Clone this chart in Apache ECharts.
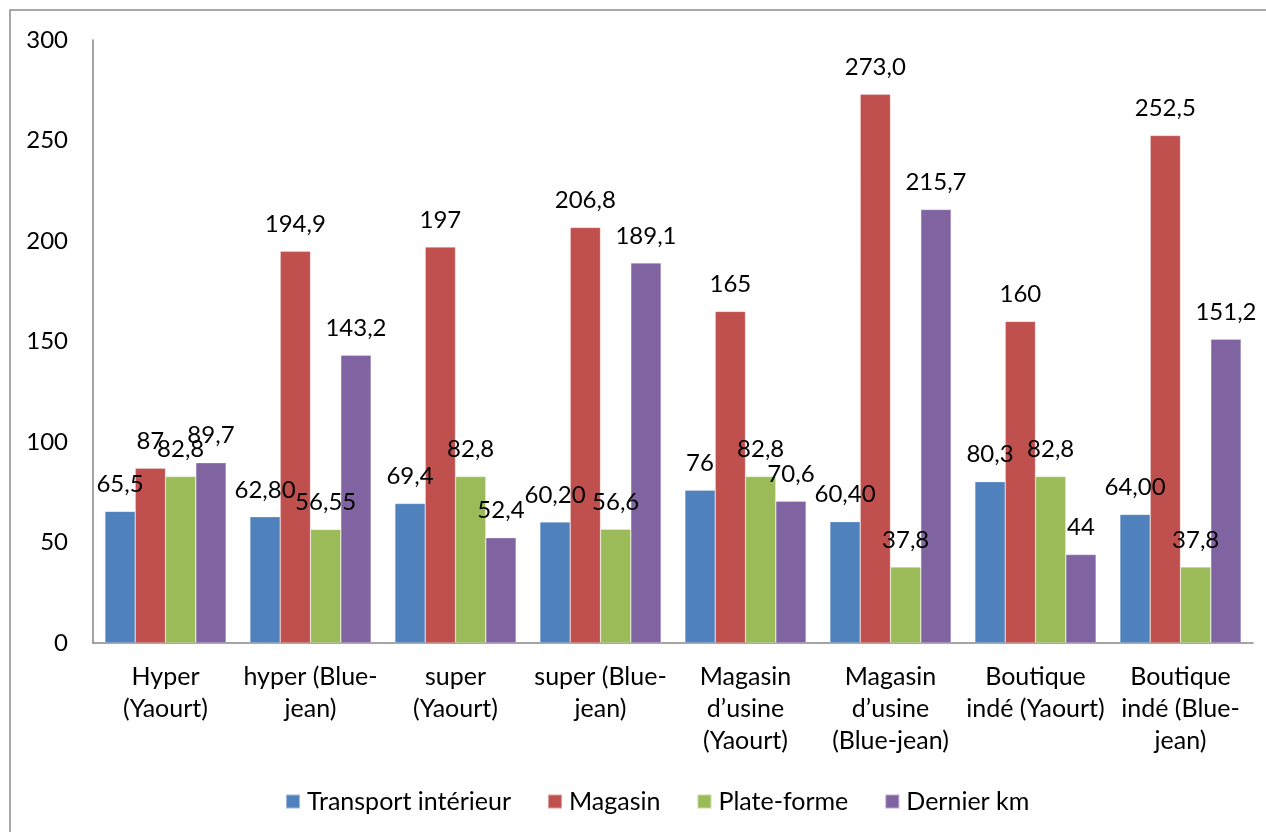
<!DOCTYPE html>
<html>
<head>
<meta charset="utf-8">
<script src="https://cdn.jsdelivr.net/npm/echarts@6/dist/echarts.min.js"></script>
<style>
html,body{margin:0;padding:0;background:#fff;}
#chart{width:1266px;height:832px;}
</style>
</head>
<body>
<div id="chart"></div>
<script>
const categories = [
  "Hyper\n(Yaourt)",
  "hyper (Blue-\njean)",
  "super\n(Yaourt)",
  "super (Blue-\njean)",
  "Magasin\nd’usine\n(Yaourt)",
  "Magasin\nd’usine\n(Blue-jean)",
  "Boutique\nindé (Yaourt)",
  "Boutique\nindé (Blue-\njean)"
];
const seriesNames = ["Transport intérieur", "Magasin", "Plate-forme", "Dernier km"];
const transport = [65.5, 62.8, 69.4, 60.2, 76, 60.4, 80.3, 64.0];
const magasin   = [87, 194.9, 197, 206.8, 165, 273.0, 160, 252.5];
const plateforme= [82.8, 56.55, 82.8, 56.6, 82.8, 37.8, 82.8, 37.8];
const dernierKm = [89.7, 143.2, 52.4, 189.1, 70.6, 215.7, 44, 151.2];
const transportLabels = ["65,5", "62,80", "69,4", "60,20", "76", "60,40", "80,3", "64,00"];
const magasinLabels   = ["87", "194,9", "197", "206,8", "165", "273,0", "160", "252,5"];
const plateformeLabels= ["82,8", "56,55", "82,8", "56,6", "82,8", "37,8", "82,8", "37,8"];
const dernierLabels   = ["89,7", "143,2", "52,4", "189,1", "70,6", "215,7", "44", "151,2"];
const yTicks = [0, 50, 100, 150, 200, 250, 300];

const colors = ["#4F81BD", "#C0504D", "#9BBB59", "#8064A2"];
const FONT = "Lato";

function mk(name, values, labels, color) {
  return {
    name: name,
    type: "bar",
    data: values,
    barGap: "0%",
    barCategoryGap: "16.4%",
    itemStyle: { color: color, borderColor: "rgba(255,255,255,0.45)", borderWidth: 0.6 },
    label: {
      show: true,
      position: "top",
      distance: 15,
      color: "#000",
      fontFamily: FONT,
      fontSize: 24,
      formatter: function (p) { return labels[p.dataIndex]; }
    },
    emphasis: { disabled: true },
    animation: false
  };
}

const chart = echarts.init(document.getElementById("chart"), null, { renderer: "canvas" });
chart.setOption({
  animation: false,
  backgroundColor: "#fff",
  textStyle: { fontFamily: FONT },
  graphic: [{
    type: "rect",
    shape: { x: 10, y: 10, width: 1400, height: 1000 },
    style: { fill: "none", stroke: "#8c8c8c", lineWidth: 1.5 },
    silent: true,
    z: -1
  }],
  grid: { left: 93, right: 13, top: 40, bottom: 189, containLabel: false },
  legend: {
    data: seriesNames,
    left: 280,
    top: 784,
    itemWidth: 14,
    itemHeight: 14,
    itemGap: 36,
    icon: "rect",
    textStyle: { fontFamily: FONT, fontSize: 25, color: "#000", padding: [0, 0, 0, 2] },
    selectedMode: false
  },
  xAxis: {
    type: "category",
    data: categories,
    axisLine: { show: true, lineStyle: { color: "#868686", width: 1.5 } },
    axisTick: { show: false },
    axisLabel: {
      interval: 0,
      color: "#000",
      fontFamily: FONT,
      fontSize: 25,
      lineHeight: 32,
      margin: 18
    }
  },
  yAxis: {
    type: "value",
    min: yTicks[0],
    max: yTicks[yTicks.length - 1],
    interval: 50,
    splitLine: { show: false },
    axisLine: { show: true, lineStyle: { color: "#868686", width: 1.5 } },
    axisTick: { show: false },
    axisLabel: { color: "#000", fontFamily: FONT, fontSize: 24, margin: 25 }
  },
  series: [
    mk(seriesNames[0], transport, transportLabels, colors[0]),
    mk(seriesNames[1], magasin, magasinLabels, colors[1]),
    mk(seriesNames[2], plateforme, plateformeLabels, colors[2]),
    mk(seriesNames[3], dernierKm, dernierLabels, colors[3])
  ]
});
</script>
</body>
</html>
